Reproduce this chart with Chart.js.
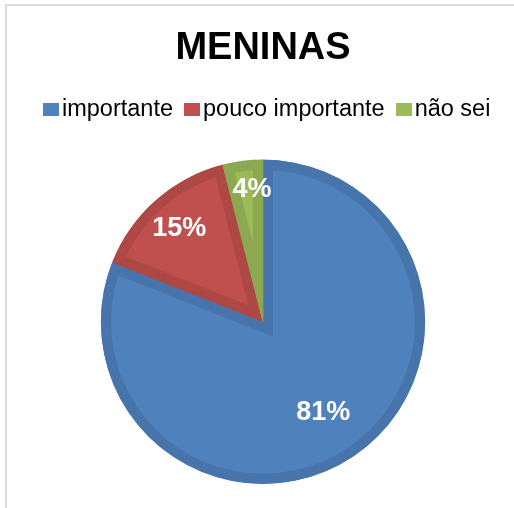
<!DOCTYPE html>
<html>
<head>
<meta charset="utf-8">
<script src="https://cdn.jsdelivr.net/npm/chart.js@4.4.1/dist/chart.umd.min.js"></script>
<style>
    body { margin: 0; background: #fff; font-family: "Liberation Sans", Arial, sans-serif; }
    #wrap { position: relative; width: 514px; height: 508px; overflow: hidden; }
    #frame { position: absolute; left: 5px; top: 4px; width: 700px; height: 700px;
             border-left: 2px solid #d9d9d9; border-top: 2px solid #d9d9d9; }
    #chart { position: absolute; left: 0; top: 0; }
    #legend { position: absolute; left: 43px; top: 96px; display: flex; white-space: nowrap; }
    #legend .item { display: flex; align-items: flex-start; margin-right: 11px; }
    #legend .box { width: 16px; height: 13px; margin-top: 7px; margin-right: 3px; }
    #legend .txt { font-size: 23.5px; line-height: 24px; color: #000; }
</style>
</head>
<body>
<div id="wrap">
    <div id="frame"></div>
    <canvas id="chart" width="514" height="508"></canvas>
    <div id="legend"></div>
</div>
<script>
// dados do gráfico
const chartTitle = 'MENINAS';
const categories = ['importante', 'pouco importante', 'não sei'];
const percentages = [81, 15, 4];
const sliceColors = ['#4f81bd', '#c0504d', '#9bbb59'];
const sliceBorders = ['#4774ab', '#ad4845', '#8ca952'];

// legenda em HTML (espaçamentos mais próximos do original)
const legendEl = document.getElementById('legend');
categories.forEach((name, i) => {
    const item = document.createElement('div');
    item.className = 'item';
    const box = document.createElement('span');
    box.className = 'box';
    box.style.background = sliceColors[i];
    const txt = document.createElement('span');
    txt.className = 'txt';
    txt.textContent = name;
    item.appendChild(box);
    item.appendChild(txt);
    legendEl.appendChild(item);
});

// rótulos de porcentagem dentro das fatias
const sliceLabels = {
    id: 'sliceLabels',
    afterDatasetsDraw(chart, args, opts) {
        const ctx = chart.ctx;
        const meta = chart.getDatasetMeta(0);
        ctx.save();
        ctx.font = 'bold 27px "Liberation Sans", Arial, sans-serif';
        ctx.fillStyle = '#fff';
        ctx.textAlign = 'center';
        ctx.textBaseline = 'alphabetic';
        meta.data.forEach((arc, i) => {
            const p = arc.getProps(['x', 'y', 'startAngle', 'endAngle', 'outerRadius'], true);
            const mid = (p.startAngle + p.endAngle) / 2 + opts.shift[i] * Math.PI / 180;
            const r = p.outerRadius * opts.radius[i];
            ctx.fillText(percentages[i] + '%', p.x + Math.cos(mid) * r, p.y + Math.sin(mid) * r + 9.5);
        });
        ctx.restore();
    }
};

new Chart(document.getElementById('chart'), {
    type: 'pie',
    data: {
        labels: categories,
        datasets: [{
            data: percentages,
            backgroundColor: sliceColors,
            borderColor: sliceBorders,
            borderWidth: 10,
            borderAlign: 'inner',
            borderJoinStyle: 'miter'
        }]
    },
    options: {
        responsive: false,
        animation: false,
        layout: { padding: { left: 12, right: 0, top: 0, bottom: 24 } },
        plugins: {
            title: {
                display: true,
                text: chartTitle,
                color: '#000',
                font: { size: 38, weight: 'bold', family: '"Liberation Sans", Arial, sans-serif' },
                padding: { top: 26, bottom: 88 }
            },
            legend: { display: false },
            tooltip: { enabled: false },
            sliceLabels: { radius: [0.66, 0.78, 0.83], shift: [0, 0, 2.5] }
        }
    },
    plugins: [sliceLabels]
});
</script>
</body>
</html>
